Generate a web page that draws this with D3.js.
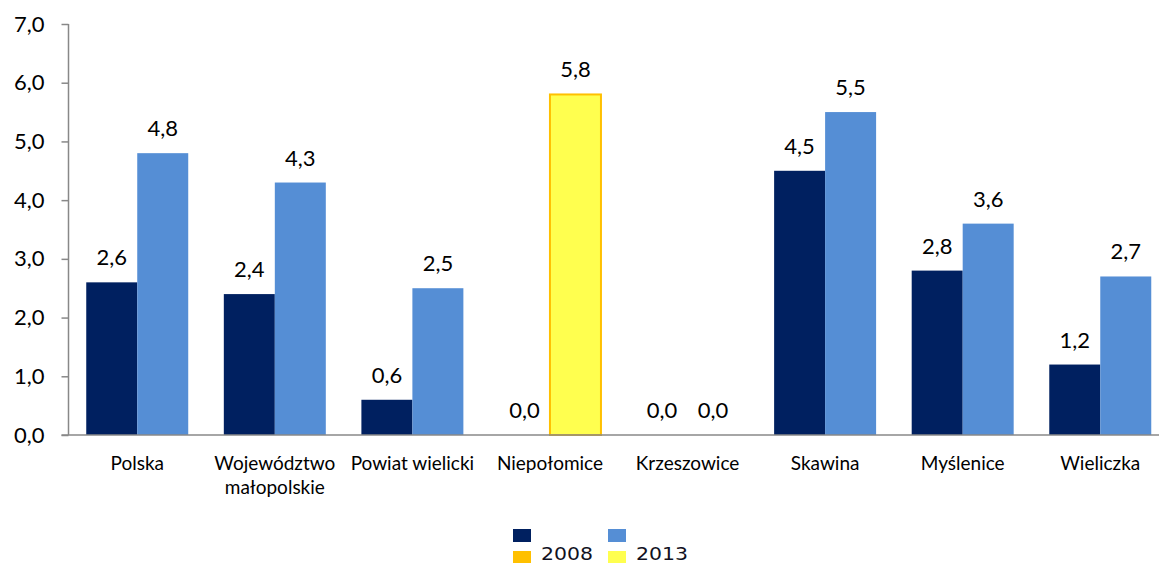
<!DOCTYPE html>
<html><head><meta charset="utf-8">
<script src="https://cdnjs.cloudflare.com/ajax/libs/d3/7.8.5/d3.min.js"></script>
<style>body{margin:0;background:#fff}svg{display:block}</style>
</head><body>
<svg id="c" width="1159" height="563"></svg>
<script>
const categories = ["Polska","Województwo małopolskie","Powiat wielicki","Niepołomice","Krzeszowice","Skawina","Myślenice","Wieliczka"];
const series = ["2008","2013"];
const values2008 = [2.6,2.4,0.6,0.0,0.0,4.5,2.8,1.2];
const values2013 = [4.8,4.3,2.5,5.8,0.0,5.5,3.6,2.7];
const highlighted = ["Niepołomice"];
const yTicks = [0,1,2,3,4,5,6,7];

const colors = {"2008":"#002060","2013":"#558ED5"};
const hiColors = {"2008":"#FFC000","2013":"#FFFF4F"};
const hiStroke = "#FFC000";

const svg = d3.select("#c");
const FONT = "Lato, 'Open Sans', sans-serif";
const x0 = 68.5, xEnd = 1169, yTop = 24, yBase = 435;

const x = d3.scaleBand().domain(categories).range([x0, xEnd]).paddingInner(0.2587).paddingOuter(0.129);
const xs = d3.scaleBand().domain(series).range([0, x.bandwidth()]);
const y = d3.scaleLinear().domain([0,7]).range([yBase, yTop]);

const fmt = v => d3.format(".1f")(v).replace(".", ",");

// bars
const rows = [];
categories.forEach((c,i)=>{
  rows.push({c, s:"2008", v:values2008[i]});
  rows.push({c, s:"2013", v:values2013[i]});
});
const g = svg.append("g");
g.selectAll("rect.bar").data(rows).join("rect").attr("class","bar")
  .attr("x", d => x(d.c) + xs(d.s))
  .attr("y", d => y(d.v))
  .attr("width", xs.bandwidth())
  .attr("height", d => y(0) - y(d.v))
  .attr("fill", d => highlighted.includes(d.c) ? hiColors[d.s] : colors[d.s])
  .attr("stroke", d => highlighted.includes(d.c) && d.v > 0 ? hiStroke : "none")
  .attr("stroke-width", 2);

g.selectAll("text.val").data(rows).join("text").attr("class","val")
  .attr("x", d => x(d.c) + xs(d.s) + xs.bandwidth()/2)
  .attr("y", d => y(d.v) - 17)
  .attr("text-anchor","middle")
  .attr("font-family", FONT).attr("font-size", 22).attr("fill","#000")
  .text(d => fmt(d.v));

// y axis
const yAxis = d3.axisLeft(y).tickValues(yTicks).tickSize(7).tickPadding(17).tickFormat(fmt);
const ya = svg.append("g").attr("transform",`translate(${x0},0)`).call(yAxis);
ya.select(".domain").attr("stroke","#888").attr("stroke-width",1.5).attr("d",`M0,${yTop}V${yBase}`);
ya.selectAll(".tick line").attr("stroke","#888").attr("stroke-width",1.5);
ya.selectAll(".tick text").attr("font-family",FONT).attr("font-size",22).attr("fill","#000");

// x axis
const xAxis = d3.axisBottom(x).tickSize(0).tickPadding(0);
const xa = svg.append("g").attr("transform",`translate(0,${yBase})`).call(xAxis);
xa.select(".domain").attr("stroke","#888").attr("stroke-width",1.5).attr("d",`M${x0-7},0H${xEnd}`);
xa.selectAll(".tick text").each(function(d){
  const t = d3.select(this);
  t.text(null).attr("font-family",FONT).attr("font-size",19).attr("fill","#000").attr("y",0).attr("dy",null);
  const words = d.split(" ");
  const lines = [];
  let cur = "";
  const tmp = svg.append("text").attr("font-family",FONT).attr("font-size",19);
  words.forEach(w=>{
    const test = cur ? cur + " " + w : w;
    tmp.text(test);
    if (tmp.node().getComputedTextLength() > x.step() - 4 && cur) { lines.push(cur); cur = w; }
    else cur = test;
  });
  lines.push(cur);
  tmp.remove();
  lines.forEach((l,k)=>t.append("tspan").attr("x",0).attr("y",35 + k*23.5).text(l));
});

// legend
const LEG = "'DejaVu Sans', Verdana, sans-serif";
const legX = {"2008":513, "2013":608};
const lg = svg.append("g");
series.forEach(s=>{
  lg.append("rect").attr("x",legX[s]).attr("y",529).attr("width",18).attr("height",13).attr("fill",colors[s]);
  lg.append("rect").attr("x",legX[s]).attr("y",551).attr("width",18).attr("height",13).attr("fill",hiColors[s]);
  lg.append("text").attr("x",legX[s]+28).attr("y",560).attr("font-family",LEG).attr("font-size",18)
    .attr("textLength",52).attr("lengthAdjust","spacingAndGlyphs").attr("fill","#111122").text(s);
});
</script>
</body></html>
